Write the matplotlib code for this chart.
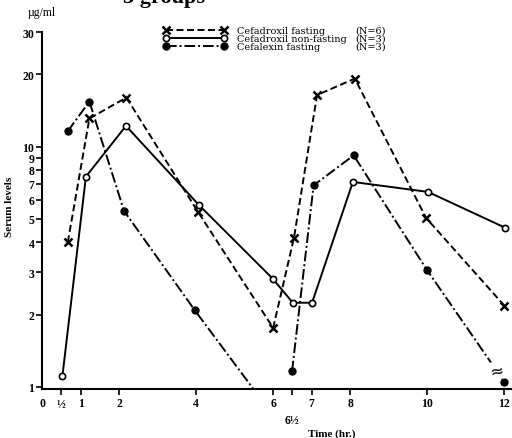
import matplotlib.pyplot as plt
from matplotlib.lines import Line2D
import numpy as np

# times (hr) as the points sit on the chart, serum levels in ug/ml
t_fast = [0.67, 1.23, 2.19, 4.05, 6.0, 6.54, 7.14, 8.12, 9.97, 12.0]
cefadroxil_fasting = [4.0, 13.1, 16.0, 5.35, 1.76, 4.17, 16.4, 19.2, 5.05, 2.18]

t_nonfast = [0.53, 1.14, 2.18, 4.08, 5.99, 6.51, 7.01, 8.07, 10.02, 12.02]
cefadroxil_nonfasting = [1.11, 7.5, 12.2, 5.7, 2.82, 2.24, 2.24, 7.13, 6.48, 4.6]

t_lex = [0.67, 1.23, 2.13, 3.97, 6.0, 6.49, 7.05, 8.09, 9.99, 12.0]
cefalexin_fasting = [11.6, 15.4, 5.4, 2.08, 0.76, 1.16, 6.9, 9.2, 3.07, 1.05]
lex_break = 5  # level below detection at 6 hr, line restarts at 6.5 hr

series_names = ["Cefadroxil fasting", "Cefadroxil non-fasting", "Cefalexin fasting"]
series_n = ["(N=6)", "(N=3)", "(N=3)"]

xticks = [0, 0.5, 1, 2, 4, 6, 6.5, 7, 8, 10, 12]
xticklabels = ["0", "½", "1", "2", "4", "6", "6½", "7", "8", "10", "12"]
yticks = [1, 2, 3, 4, 5, 6, 7, 8, 9, 10, 20, 30]

serif = "Liberation Serif"
W, H = 512, 439
fig = plt.figure(figsize=(W / 100, H / 100), dpi=100)
ax = fig.add_axes([42 / W, 1 - 390 / H, (512 - 42) / W, (390 - 33) / H])
ax.set_yscale("log")
ax.set_xlim(0, 12.2)
ax.set_ylim(0.98, 30)

lw = 1.4
styles = [
    dict(color="black", lw=lw, dashes=(3.6, 1.8), marker="x", ms=6, mew=1.8),
    dict(color="black", lw=lw, ls="-", marker="o", ms=4.5, mew=1.2, mfc="white"),
    dict(color="black", lw=lw, dashes=(5.5, 1.5, 1.0, 1.5), marker="o", ms=5, mfc="black"),
]

ax.plot(t_fast, cefadroxil_fasting, **styles[0])
ax.plot(t_nonfast, cefadroxil_nonfasting, **styles[1])
ax.plot(t_lex[:lex_break], cefalexin_fasting[:lex_break], **styles[2])
ax.plot(t_lex[lex_break:], cefalexin_fasting[lex_break:], **styles[2])

# break sign on the last cefalexin segment
bx = t_lex[-2] + 0.9 * (t_lex[-1] - t_lex[-2])
by = 10 ** (np.log10(cefalexin_fasting[-2]) + 0.9 * (np.log10(cefalexin_fasting[-1]) - np.log10(cefalexin_fasting[-2])))
ax.text(bx, by, "≈", ha="center", va="center", fontsize=12, rotation=10,
        family="DejaVu Sans", bbox=dict(fc="white", ec="none", pad=0))

ax.spines["top"].set_visible(False)
ax.spines["right"].set_visible(False)
ax.spines["left"].set_linewidth(1.5)
ax.spines["bottom"].set_linewidth(1.5)

ax.set_yticks(yticks)
ax.set_yticklabels([str(v) for v in yticks])
ax.yaxis.set_minor_locator(plt.NullLocator())
ax.set_xticks(xticks)
ax.set_xticklabels(xticklabels)
ax.tick_params(axis="both", direction="out", length=4, width=1.2, pad=1.5)
for lab in ax.get_xticklabels() + ax.get_yticklabels():
    lab.set_family(serif)
    lab.set_fontweight("bold")
    lab.set_fontsize(8.5)
ax.xaxis.get_major_ticks()[0].tick1line.set_visible(False)
ax.xaxis.get_major_ticks()[6].set_pad(14)

fig.text(10 / W, 1 - 207 / H, "Serum levels", rotation=90, ha="center", va="center",
         family=serif, fontsize=8, fontweight="bold")
fig.text(28 / W, 1 - 13 / H, "µg/ml", ha="left", va="center", family=serif, fontsize=8.5)
fig.text(332 / W, 1 - 434 / H, "Time (hr.)", ha="center", va="center", family=serif,
         fontsize=8, fontweight="bold")
fig.text(123 / W, 1 - 3 / H, "3 groups", ha="left", va="baseline", family=serif,
         fontsize=16, fontweight="bold")

# legend
rows = [31, 39, 47]
for style, name, n, y in zip(styles, series_names, series_n, rows):
    fig.add_artist(Line2D([166 / W, 224 / W], [1 - y / H, 1 - y / H],
                          transform=fig.transFigure, **style))
    fig.text(237 / W, 1 - y / H, name, ha="left", va="center", family="DejaVu Serif",
             fontsize=7)
    fig.text(355 / W, 1 - y / H, n, ha="left", va="center", family="DejaVu Serif",
             fontsize=7)

fig.savefig("out.png", dpi=100)
